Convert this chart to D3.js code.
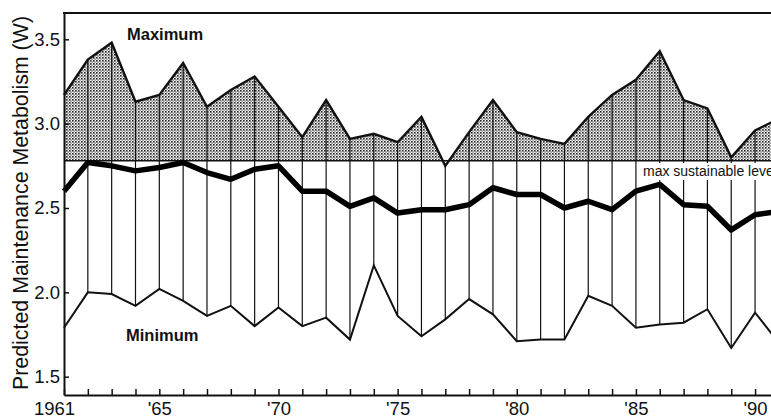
<!DOCTYPE html>
<html>
<head>
<meta charset="utf-8">
<script src="https://cdn.jsdelivr.net/npm/d3@7"></script>
<style>
  body { margin: 0; background: #fff; }
  text { font-family: "Liberation Sans", Helvetica, Arial, sans-serif; fill: #111; }
</style>
</head>
<body>
<script>
// years on the x axis
var years = [1961,1962,1963,1964,1965,1966,1967,1968,1969,1970,
             1971,1972,1973,1974,1975,1976,1977,1978,1979,1980,
             1981,1982,1983,1984,1985,1986,1987,1988,1989,1990,1991];
// predicted maintenance metabolism (W)
var maxVals  = [3.17,3.38,3.48,3.13,3.17,3.36,3.10,3.20,3.28,3.10,
                2.92,3.14,2.91,2.94,2.89,3.04,2.75,2.95,3.14,2.95,
                2.91,2.88,3.04,3.17,3.26,3.43,3.14,3.09,2.80,2.96,3.03];
var meanVals = [2.60,2.77,2.75,2.72,2.74,2.77,2.71,2.67,2.73,2.75,
                2.60,2.60,2.51,2.56,2.47,2.49,2.49,2.52,2.62,2.58,
                2.58,2.50,2.54,2.49,2.60,2.64,2.52,2.51,2.37,2.46,2.48];
var minVals  = [1.79,2.00,1.99,1.92,2.02,1.95,1.86,1.92,1.80,1.91,
                1.80,1.85,1.72,2.16,1.86,1.74,1.84,1.96,1.87,1.71,
                1.72,1.72,1.98,1.92,1.79,1.81,1.82,1.90,1.67,1.88,1.70];
var sustainable = 2.78;
var yTicks = [1.5, 2.0, 2.5, 3.0, 3.5];
var xLabelYears = [1961,1965,1970,1975,1980,1985,1990];

var data = years.map(function(yr,i){
  return {year: yr, max: maxVals[i], mean: meanVals[i], min: minVals[i]};
});

var width = 771, height = 418;

var svg = d3.select("body")
  .append("svg")
  .attr("width", width)
  .attr("height", height)
  ;

var x = d3.scaleLinear().domain([1961, 1991]).range([64, 778.9]);
var y = d3.scaleLinear().domain([1.3915, 3.656]).range([395, 13]);

// stipple pattern
var pat = svg.append("defs")
  .append("pattern")
  .attr("id", "stipple")
  .attr("patternUnits", "userSpaceOnUse")
  .attr("width", 3)
  .attr("height", 3)
  ;
pat.append("rect").attr("width", 3).attr("height", 3).attr("fill", "#fff");
pat.append("rect").attr("x", 0).attr("y", 0).attr("width", 1.6).attr("height", 1.6).attr("fill", "#222");
pat.append("rect").attr("x", 1.5).attr("y", 1.5).attr("width", 1.2).attr("height", 1.2).attr("fill", "#3a3a3a");

svg.select("defs")
  .append("clipPath")
  .attr("id", "aboveLine")
  .append("rect")
  .attr("x", 0)
  .attr("y", 0)
  .attr("width", width)
  .attr("height", y(sustainable))
  ;

// shaded area above the sustainable level
var area = d3.area()
  .x(function(d){ return x(d.year); })
  .y0(y(sustainable))
  .y1(function(d){ return y(d.max); })
  ;
svg.append("path")
  .datum(data)
  .attr("d", area)
  .attr("fill", "url(#stipple)")
  .attr("clip-path", "url(#aboveLine)")
  ;

// max sustainable level line
svg.append("line")
  .attr("x1", x(1961))
  .attr("x2", width)
  .attr("y1", y(sustainable))
  .attr("y2", y(sustainable))
  .attr("stroke", "#111")
  .attr("stroke-width", 1.6)
  ;

// verticals, max to min
svg.selectAll(".vert")
  .data(data.filter(function(d){ return d.year > 1961; }))
  .enter()
  .append("line")
  .attr("class", "vert")
  .attr("x1", function(d){ return x(d.year); })
  .attr("x2", function(d){ return x(d.year); })
  .attr("y1", function(d){ return y(d.max); })
  .attr("y2", function(d){ return y(d.min); })
  .attr("stroke", "#111")
  .attr("stroke-width", 1.2)
  ;

// label with white box (cut by the right edge, as in the original)
var lblX = 643, lblY = 176;
svg.append("rect")
  .attr("x", lblX - 3)
  .attr("y", lblY - 13)
  .attr("width", width - lblX + 3)
  .attr("height", 17)
  .attr("fill", "#fff")
  ;
svg.append("text")
  .attr("x", lblX)
  .attr("y", lblY)
  .style("font-size", "14px")
  .text("max sustainable level")
  ;

function line(key){
  return d3.line()
    .x(function(d){ return x(d.year); })
    .y(function(d){ return y(d[key]); });
}

svg.append("path")
  .datum(data)
  .attr("d", line("min"))
  .attr("fill", "none")
  .attr("stroke", "#111")
  .attr("stroke-width", 2)
  ;
svg.append("path")
  .datum(data)
  .attr("d", line("max"))
  .attr("fill", "none")
  .attr("stroke", "#111")
  .attr("stroke-width", 2.4)
  ;
svg.append("path")
  .datum(data)
  .attr("d", line("mean"))
  .attr("fill", "none")
  .attr("stroke", "#000")
  .attr("stroke-width", 5.5)
  .attr("stroke-linejoin", "round")
  ;

// axes
var xAxis = d3.axisBottom(x)
  .tickValues(years)
  .tickSize(-6)
  .tickSizeOuter(0)
  .tickPadding(7)
  .tickFormat(function(d){
    if (d == 1961) return "1961";
    if (xLabelYears.indexOf(d) >= 0) return "'" + String(d).slice(2);
    return "";
  });
var gx = svg.append("g")
  .attr("transform", "translate(0,395)")
  .call(xAxis)
  ;
gx.selectAll("text")
  .style("font-size", "18.5px")
  .style("font-family", "'Liberation Sans', Helvetica, Arial, sans-serif")
  .attr("fill", "#111")
  .attr("dx", function(d){ return d == 1961 ? -10 : 0; })
  ;

var yAxis = d3.axisLeft(y)
  .tickValues(yTicks)
  .tickSize(-5)
  .tickSizeOuter(0)
  .tickPadding(4)
  .tickFormat(d3.format(".1f"));
var gy = svg.append("g")
  .attr("transform", "translate(64,0)")
  .call(yAxis)
  ;
gy.selectAll("text")
  .style("font-size", "18.5px")
  .style("font-family", "'Liberation Sans', Helvetica, Arial, sans-serif")
  .attr("fill", "#111")
  ;

svg.selectAll(".domain").attr("stroke", "#111").attr("stroke-width", 2);
svg.selectAll(".tick line").attr("stroke", "#111").attr("stroke-width", 1.5);

// top frame
svg.append("line")
  .attr("x1", 63)
  .attr("x2", width)
  .attr("y1", 13)
  .attr("y2", 13)
  .attr("stroke", "#111")
  .attr("stroke-width", 2)
  ;

// annotations
svg.append("text")
  .attr("x", 127)
  .attr("y", 40)
  .style("font-size", "16.5px")
  .style("font-weight", "bold")
  .text("Maximum")
  ;
svg.append("text")
  .attr("x", 126)
  .attr("y", 341)
  .style("font-size", "16.5px")
  .style("font-weight", "bold")
  .text("Minimum")
  ;

svg.append("text")
  .attr("transform", "translate(28,203) rotate(-90)")
  .attr("text-anchor", "middle")
  .style("font-size", "22px")
  .attr("textLength", 374)
  .attr("lengthAdjust", "spacingAndGlyphs")
  .text("Predicted Maintenance Metabolism (W)")
  ;
</script>
</body>
</html>
